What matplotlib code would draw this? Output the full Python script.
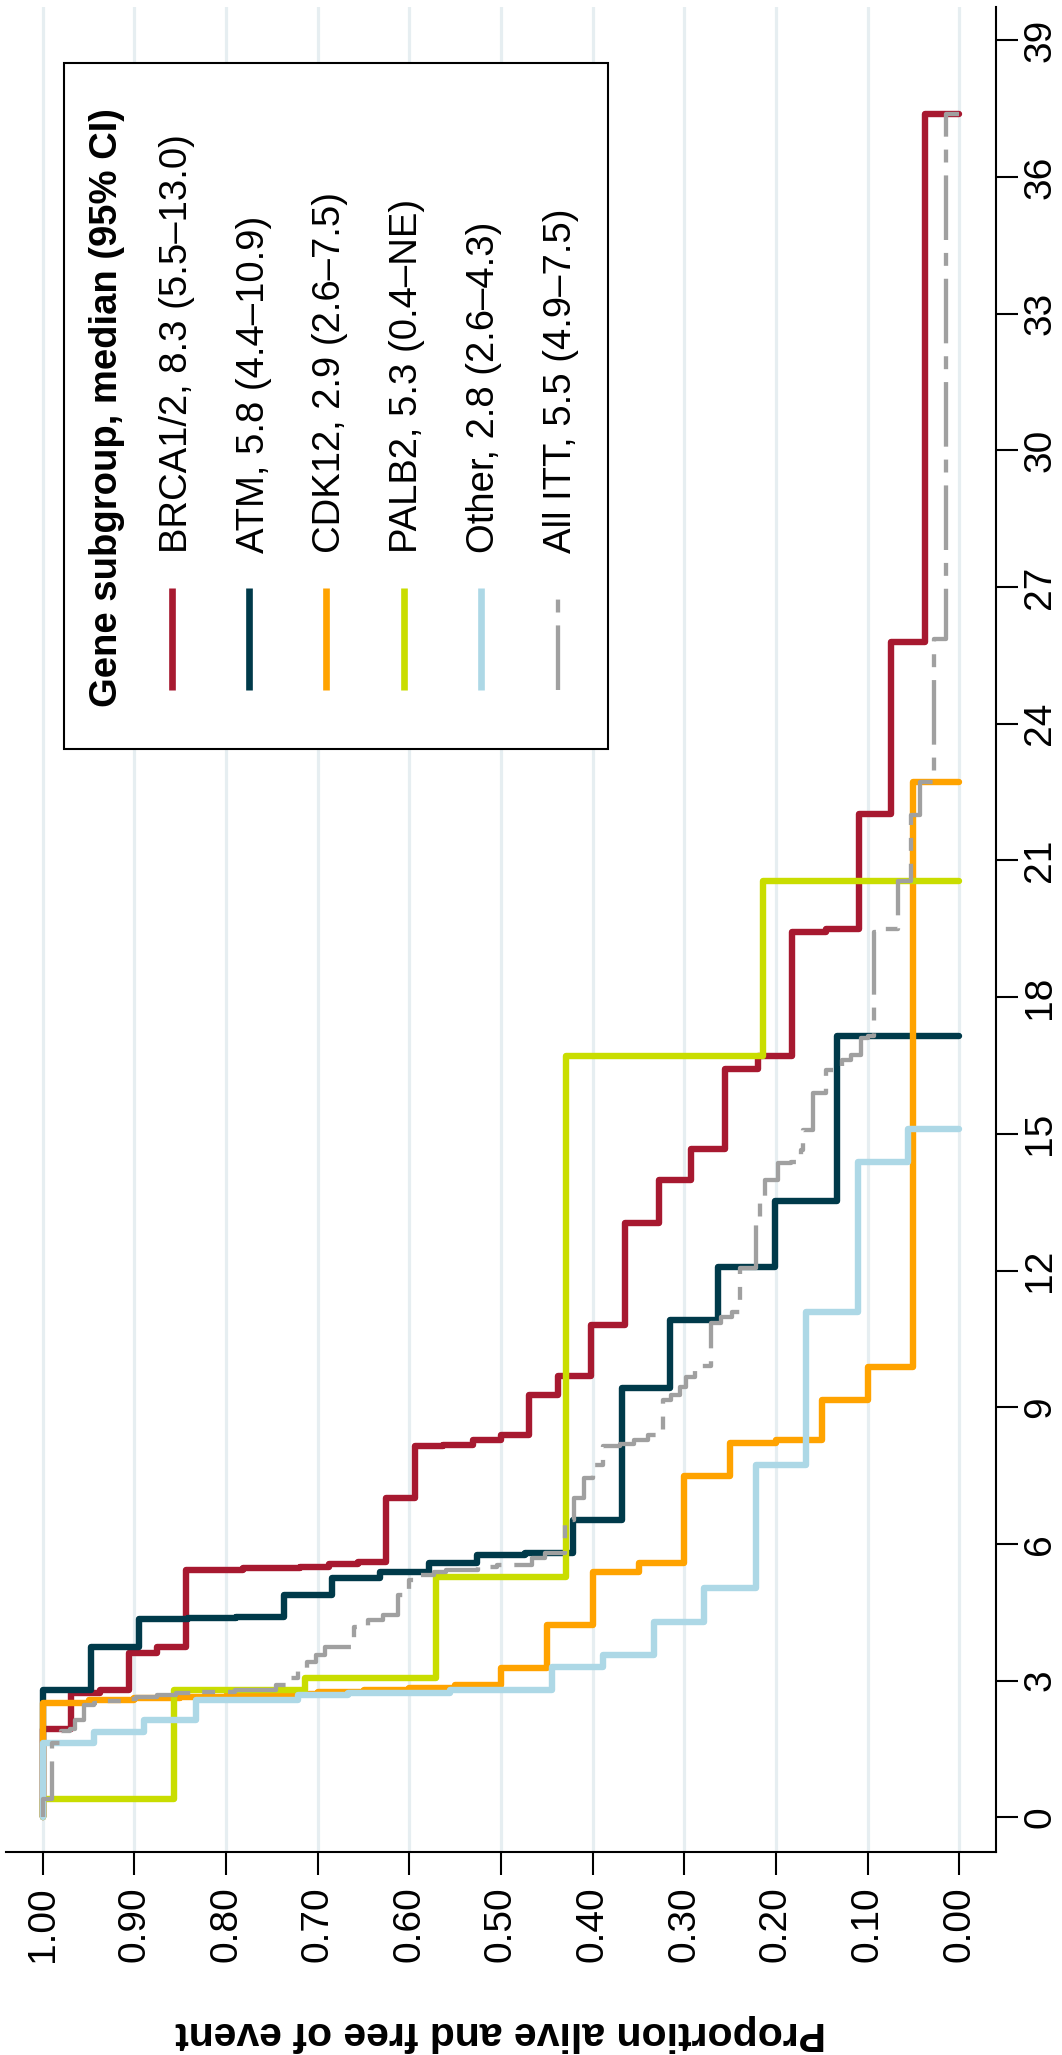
import numpy as np
import matplotlib
matplotlib.use('Agg')
import matplotlib.pyplot as plt
from matplotlib.patches import Rectangle
from matplotlib.lines import Line2D

# ---------------- data ----------------
# event times (months) and survival proportion right after each drop
brca_t = [1.93, 2.72, 2.80, 3.60, 3.74, 5.43, 5.47, 5.50, 5.56, 5.60, 7.00, 8.14, 8.18, 8.28,
          8.39, 9.27, 9.69, 10.81, 13.04, 13.99, 14.66, 16.42, 16.71, 19.44, 19.50, 22.02, 25.79, 37.38]
brca_s = [0.969, 0.938, 0.906, 0.875, 0.844, 0.781, 0.719, 0.688, 0.656, 0.625, 0.594, 0.563, 0.531, 0.500,
          0.469, 0.438, 0.402, 0.365, 0.328, 0.293, 0.256, 0.220, 0.182, 0.145, 0.109, 0.074, 0.037, 0.0]

atm_t = [2.79, 3.745, 4.345, 4.37, 4.40, 4.88, 5.245, 5.39, 5.575, 5.757, 5.79, 6.525, 9.42, 10.92, 12.08, 13.52, 17.15]
atm_s = [0.947, 0.895, 0.842, 0.789, 0.737, 0.684, 0.632, 0.579, 0.526, 0.474, 0.421, 0.368, 0.316, 0.263, 0.201, 0.133, 0.0]

cdk_t = [2.50, 2.58, 2.61, 2.64, 2.67, 2.70, 2.76, 2.80, 2.83, 2.90, 3.27, 4.22, 5.39, 5.57, 7.48, 8.21, 8.28, 9.16, 9.88, 22.73]
cdk_s = [0.95, 0.90, 0.85, 0.80, 0.75, 0.70, 0.65, 0.60, 0.55, 0.50, 0.45, 0.40, 0.35, 0.30, 0.25, 0.20, 0.15, 0.10, 0.05, 0.0]

palb_t = [0.40, 2.79, 3.05, 5.28, 16.70, 20.55]
palb_s = [0.857, 0.714, 0.571, 0.429, 0.214, 0.0]

other_t = [1.62, 1.88, 2.14, 2.575, 2.685, 2.736, 2.794, 3.306, 3.562, 4.294, 5.026, 7.73, 11.09, 14.38, 15.10]
other_s = [0.944, 0.889, 0.833, 0.722, 0.667, 0.556, 0.444, 0.389, 0.333, 0.278, 0.222, 0.167, 0.111, 0.056, 0.0]

itt_t = [0.40, 1.62, 1.90, 1.93, 2.14, 2.47, 2.50, 2.55, 2.59, 2.63, 2.68, 2.72, 2.76, 2.80, 2.90, 3.05,
         3.27, 3.40, 3.56, 3.74, 4.18, 4.33, 4.45, 4.88, 5.21, 5.32, 5.39, 5.43, 5.50, 5.54, 5.68, 5.79,
         6.52, 7.00, 7.44, 7.73, 8.14, 8.20, 8.28, 8.40, 9.16, 9.27, 9.44, 9.67, 9.90, 10.84, 10.99, 11.09,
         12.05, 13.00, 13.52, 13.99, 14.35, 14.39, 14.65, 15.09, 15.89, 16.40, 16.62, 16.73, 17.10, 17.15,
         19.44, 19.50, 20.55, 22.00, 22.72, 25.85, 37.38]
itt_s = [0.990, 0.980, 0.970, 0.965, 0.955, 0.944, 0.933, 0.915, 0.898, 0.875, 0.855, 0.830, 0.790, 0.745, 0.733, 0.722,
         0.712, 0.702, 0.692, 0.660, 0.645, 0.629, 0.612, 0.600, 0.587, 0.573, 0.560, 0.525, 0.504, 0.466, 0.452, 0.430,
         0.420, 0.410, 0.400, 0.389, 0.370, 0.355, 0.340, 0.323, 0.315, 0.305, 0.298, 0.288, 0.271, 0.260, 0.248, 0.239,
         0.222, 0.217, 0.212, 0.198, 0.184, 0.173, 0.170, 0.160, 0.145, 0.128, 0.118, 0.107, 0.100, 0.093,
         0.085, 0.067, 0.053, 0.043, 0.028, 0.014, 0.0]

legend_title = "Gene subgroup, median (95% CI)"
legend_labels = ["BRCA1/2, 8.3 (5.5\u201313.0)", "ATM, 5.8 (4.4\u201310.9)", "CDK12, 2.9 (2.6\u20137.5)",
                 "PALB2, 5.3 (0.4\u2013NE)", "Other, 2.8 (2.6\u20134.3)", "All ITT, 5.5 (4.9\u20137.5)"]
prop_ticks = [1.00, 0.90, 0.80, 0.70, 0.60, 0.50, 0.40, 0.30, 0.20, 0.10, 0.00]
prop_ticklabels = ["1.00", "0.90", "0.80", "0.70", "0.60", "0.50", "0.40", "0.30", "0.20", "0.10", "0.00"]
time_ticks = [0, 3, 6, 9, 12, 15, 18, 21, 24, 27, 30, 33, 36, 39]
xlabel = "Proportion alive and free of event"

# ---------------- styling ----------------
plt.rcParams['font.family'] = ['Liberation Sans', 'DejaVu Sans']
colors = ['#A71930', '#003A4A', '#FFA300', '#C9DD00', '#ADD8E6', '#A0A0A0']
grid_color = '#E6EEF1'

W, H = 1062, 2055
fig = plt.figure(figsize=(W / 100, H / 100), dpi=100)


def fx(x):
    return x / W


def fy(y):
    return 1 - y / H


ax = fig.add_axes([fx(6), fy(1852), (996 - 6) / W, (1852 - 7) / H])
ax.set_xlim(1.04, -0.04)
ax.set_ylim(-0.762, 39.73)


def km_path(t, s):
    t = np.asarray(t, float)
    s = np.asarray(s, float)
    prev = np.r_[1.0, s[:-1]]
    xs = np.r_[1.0, np.column_stack([prev, s]).ravel()]
    ys = np.r_[0.0, np.repeat(t, 2)]
    return xs, ys


series = [(brca_t, brca_s), (atm_t, atm_s), (cdk_t, cdk_s), (palb_t, palb_s), (other_t, other_s), (itt_t, itt_s)]
grey_dash = (0, (15, 3, 3, 3))
for i, (t, s) in enumerate(series):
    xs, ys = km_path(t, s)
    if i < 5:
        ax.plot(xs, ys, color=colors[i], lw=4.6, solid_capstyle='round', solid_joinstyle='round',
                zorder=3 + i, clip_on=False)
    else:
        ax.plot(xs, ys, color=colors[i], lw=3.1, ls=grey_dash, dash_capstyle='butt',
                zorder=3 + i, clip_on=False)

# grid & axes
ax.set_xticks(prop_ticks)
ax.set_xticklabels(prop_ticklabels)
ax.set_yticks(time_ticks)
ax.set_yticklabels([str(v) for v in time_ticks])
ax.grid(axis='x', color=grid_color, lw=2.3)
ax.grid(axis='y', visible=False)
ax.set_axisbelow(True)
ax.yaxis.tick_right()
for side in ['left', 'top']:
    ax.spines[side].set_visible(False)
for side in ['bottom', 'right']:
    ax.spines[side].set_linewidth(1.5)
ax.tick_params(axis='x', length=16.5, width=1.5, pad=8.5, labelsize=28, labelrotation=90)
ax.tick_params(axis='y', length=15.8, width=1.5, pad=3, labelsize=28, labelrotation=90,
               right=True, left=False, labelright=True, labelleft=False)
for lab in ax.get_yticklabels():
    lab.set_va('center')

fig.text(fx(501), fy(2033), xlabel, rotation=180, ha='center', va='center',
         fontsize=29.5, fontweight='bold')

# legend (drawn rotated)
fig.add_artist(Rectangle((fx(64), fy(749)), (608 - 64) / W, (749 - 63) / H, transform=fig.transFigure,
                         facecolor='white', edgecolor='black', lw=1.5, zorder=20))
fig.text(fx(117), fy(707), legend_title, rotation=90, rotation_mode='anchor', ha='left', va='baseline',
         fontsize=27.5, fontweight='bold', zorder=21)
line_x = [172, 249.3, 326.4, 403.5, 480.6, 557.7]
text_x = [186.8, 263.6, 340.4, 417.2, 494.0, 570.8]
for i, lab in enumerate(legend_labels):
    kw = dict(color=colors[i], transform=fig.transFigure, zorder=21, solid_capstyle='butt')
    if i < 5:
        ln = Line2D([fx(line_x[i]), fx(line_x[i])], [fy(690), fy(588)], lw=4.8, **kw)
    else:
        ln = Line2D([fx(line_x[i]), fx(line_x[i])], [fy(690), fy(588)], lw=3.1, ls=grey_dash,
                    dash_capstyle='butt', color=colors[i], transform=fig.transFigure, zorder=21)
    fig.add_artist(ln)
    fig.text(fx(text_x[i]), fy(552.8), lab, rotation=90, rotation_mode='anchor', ha='left',
             va='baseline', fontsize=27.5, zorder=21)

fig.savefig('out.png', dpi=100)
